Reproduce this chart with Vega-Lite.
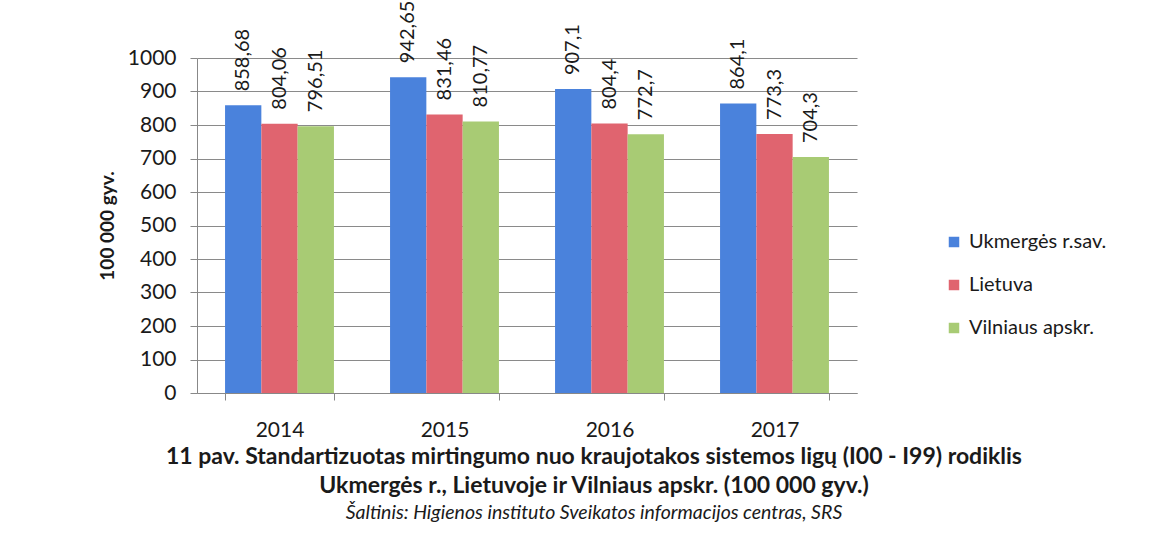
{
  "$schema": "https://vega.github.io/schema/vega-lite/v6.json",
  "width": 660,
  "height": 335,
  "padding": {"left": 98, "top": 0, "right": 5, "bottom": 5},
  "background": "white",
  "config": {
    "font": "Lato",
    "view": {"stroke": null},
    "locale": {"number": {"decimal": ",", "thousands": " ", "grouping": [3], "currency": ["", " €"]}}
  },
  "data": {
    "values": [
      {"year": "2014", "series": "Ukmergės r.sav.", "value": 858.68},
      {"year": "2014", "series": "Lietuva", "value": 804.06},
      {"year": "2014", "series": "Vilniaus apskr.", "value": 796.51},
      {"year": "2015", "series": "Ukmergės r.sav.", "value": 942.65},
      {"year": "2015", "series": "Lietuva", "value": 831.46},
      {"year": "2015", "series": "Vilniaus apskr.", "value": 810.77},
      {"year": "2016", "series": "Ukmergės r.sav.", "value": 907.1},
      {"year": "2016", "series": "Lietuva", "value": 804.4},
      {"year": "2016", "series": "Vilniaus apskr.", "value": 772.7},
      {"year": "2017", "series": "Ukmergės r.sav.", "value": 864.1},
      {"year": "2017", "series": "Lietuva", "value": 773.3},
      {"year": "2017", "series": "Vilniaus apskr.", "value": 704.3}
    ]
  },
  "title": {
    "text": ["11 pav. Standartizuotas mirtingumo nuo kraujotakos sistemos ligų (I00 - I99) rodiklis", "Ukmergės r., Lietuvoje ir Vilniaus apskr. (100 000 gyv.)"],
    "subtitle": "Šaltinis: Higienos instituto Sveikatos informacijos centras, SRS",
    "orient": "bottom",
    "anchor": "middle",
    "frame": "group",
    "dx": 67,
    "offset": 6,
    "fontSize": 23,
    "fontWeight": "bold",
    "lineHeight": 29,
    "color": "#1a1a1a",
    "subtitleFontSize": 19.5,
    "subtitleFontStyle": "italic",
    "subtitleColor": "#1a1a1a",
    "subtitlePadding": 6
  },
  "encoding": {
    "x": {
      "field": "year",
      "type": "nominal",
      "scale": {"paddingInner": 0.34, "paddingOuter": 0.17},
      "axis": {
        "title": null,
        "labelAngle": 0,
        "labelFontSize": 21,
        "labelColor": "#1a1a1a",
        "labelPadding": 19,
        "tickBand": "extent",
        "tickSize": 7,
        "tickColor": "#888888",
        "domainColor": "#888888",
        "grid": false
      }
    },
    "xOffset": {
      "field": "series",
      "type": "nominal",
      "sort": ["Ukmergės r.sav.", "Lietuva", "Vilniaus apskr."],
      "scale": {"paddingInner": 0, "paddingOuter": 0}
    },
    "y": {
      "field": "value",
      "type": "quantitative",
      "scale": {"domain": [0, 1000]},
      "axis": {
        "values": [0, 100, 200, 300, 400, 500, 600, 700, 800, 900, 1000],
        "format": "d",
        "grid": true,
        "gridColor": "#8a8a8a",
        "gridWidth": 1,
        "domainColor": "#888888",
        "tickColor": "#888888",
        "tickSize": 7,
        "labelFontSize": 21,
        "labelColor": "#1a1a1a",
        "labelPadding": 14,
        "title": "100 000 gyv.",
        "titleFontSize": 19,
        "titleFontWeight": "bold",
        "titleColor": "#1a1a1a",
        "titlePadding": 10
      }
    }
  },
  "layer": [
    {
      "mark": {"type": "bar"},
      "encoding": {
        "color": {
          "field": "series",
          "type": "nominal",
          "scale": {
            "domain": ["Ukmergės r.sav.", "Lietuva", "Vilniaus apskr."],
            "range": ["#4a82dc", "#e0646f", "#a8cb74"]
          },
          "legend": {
            "orient": "none",
            "legendX": 747,
            "legendY": 174,
            "title": null,
            "symbolType": "square",
            "symbolSize": 110,
            "symbolStrokeWidth": 0,
            "labelFontSize": 20,
            "labelColor": "#1a1a1a",
            "labelOffset": 5,
            "rowPadding": 23
          }
        }
      }
    },
    {
      "mark": {"type": "text", "angle": 270, "align": "left", "baseline": "middle", "dx": 14, "fontSize": 20, "color": "#1a1a1a"},
      "encoding": {
        "text": {"field": "value", "type": "quantitative", "format": ".2~f"}
      }
    }
  ]
}
